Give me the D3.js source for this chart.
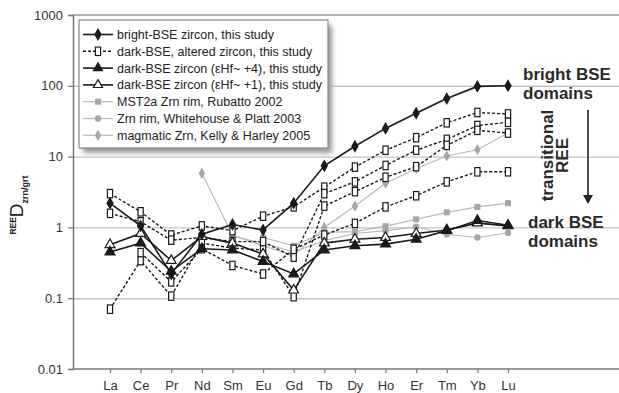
<!DOCTYPE html>
<html>
<head>
<meta charset="utf-8">
<script src="https://cdn.jsdelivr.net/npm/d3@7"></script>
<style>
  body { margin: 0; background: #fff; }
  svg { font-family: Arial, "Liberation Sans", sans-serif; }
</style>
</head>
<body>
<div id="chart"></div>
<script>
// REE categories and partition coefficients
var elements = ["La", "Ce", "Pr", "Nd", "Sm", "Eu", "Gd", "Tb", "Dy", "Ho", "Er", "Tm", "Yb", "Lu"];
var yTicks = [0.01, 0.1, 1, 10, 100, 1000];

var brightBSE = [2.2, 1.05, 0.22, 0.8, 1.1, 0.92, 2.2, 7.4, 14, 25, 41, 66, 98, 100];
var altered1 = [3.0, 1.66, 0.78, 1.05, 0.9, 1.44, 1.95, 3.7, 7.1, 12.3, 18.5, 30, 42, 40];
var altered2 = [1.58, 1.2, 0.66, 0.72, 0.63, 0.63, 0.38, 3.0, 4.4, 7.5, 12.3, 17.5, 27.5, 30.5];
var altered3 = [0.07, 0.34, 0.107, 0.6, 0.51, 0.48, 0.105, 2.0, 3.2, 5.1, 7.2, 14.4, 23.5, 21.5];
var altered4 = [null, 0.44, 0.17, 0.5, 0.29, 0.22, 0.49, 0.78, 1.14, 1.95, 2.8, 4.4, 6.1, 6.1];
var hfPlus4 = [0.45, 0.6, 0.24, 0.5, 0.48, 0.33, 0.22, 0.48, 0.55, 0.58, 0.68, 0.9, 1.25, 1.07];
var hfPlus1 = [0.57, 0.82, 0.34, 0.74, 0.6, 0.42, 0.13, 0.6, 0.68, 0.72, 0.82, 0.92, 1.15, 1.05];
var rubatto = [null, null, null, null, null, 0.72, 0.55, 0.85, 0.87, 1.04, 1.3, 1.63, 1.95, 2.2];
var whitehouse = [null, null, null, null, 0.75, 0.6, 0.45, 0.65, 0.82, 0.9, 1.02, 0.8, 0.72, 0.84];
var kelly = [null, null, null, 5.8, 0.78, 0.55, 0.4, 1.0, 2.0, 4.2, 6.8, 10.2, 12.5, 21.5];

var legendLabels = [
    "bright-BSE zircon, this study",
    "dark-BSE, altered zircon, this study",
    "dark-BSE zircon (\u03b5Hf~ +4), this study",
    "dark-BSE zircon (\u03b5Hf~ +1), this study",
    "MST2a Zrn rim, Rubatto 2002",
    "Zrn rim, Whitehouse & Platt 2003",
    "magmatic Zrn, Kelly & Harley 2005"
];

var W = 619, H = 393;
var plotLeft = 73, plotRight = 619, plotTop = 15, plotBottom = 369;

var svg = d3.select("#chart").append("svg")
    .attr("width", W)
    .attr("height", H);

var x = d3.scalePoint().domain(elements).range([110, 508]);
var y = d3.scaleLog().domain([0.01, 1000]).range([plotBottom, plotTop]);

// gridlines
svg.append("g")
    .attr("transform", "translate(" + plotLeft + ",0)")
    .call(d3.axisLeft(y).tickValues([0.1, 1, 10, 100]).tickSize(-(plotRight - plotLeft)).tickFormat(""))
    .call(g => g.select(".domain").remove())
    .selectAll("line").attr("stroke", "#c4c4c4").attr("stroke-width", 1.4);

// top frame line
svg.append("line")
    .attr("x1", plotLeft).attr("x2", plotRight)
    .attr("y1", y(1000)).attr("y2", y(1000))
    .attr("stroke", "#999").attr("stroke-width", 1.4);

// axes
var yAxis = svg.append("g")
    .attr("transform", "translate(" + plotLeft + ",0)")
    .call(d3.axisLeft(y).tickValues(yTicks).tickSize(5).tickPadding(5).tickFormat(d => String(d)));
var xAxis = svg.append("g")
    .attr("transform", "translate(0," + plotBottom + ")")
    .call(d3.axisBottom(x).tickSize(4).tickPadding(8));
xAxis.select(".domain").attr("d", "M" + plotLeft + ",0H" + plotRight);
[yAxis, xAxis].forEach(function (g) {
    g.select(".domain").attr("stroke", "#777").attr("stroke-width", 1.5);
    g.selectAll(".tick line").attr("stroke", "#777").attr("stroke-width", 1.2);
    g.selectAll("text").attr("font-size", 13).attr("fill", "#333");
});

// series definitions
var grey = "#a6a6a6";
var series = [
    { values: rubatto, color: "#b8b8b8", width: 1.2, dash: null, marker: "square", fill: grey, stroke: "none" },
    { values: whitehouse, color: "#b8b8b8", width: 1.2, dash: null, marker: "circle", fill: grey, stroke: "none" },
    { values: kelly, color: "#b8b8b8", width: 1.2, dash: null, marker: "diamond", fill: grey, stroke: "none" },
    { values: altered1, color: "#1a1a1a", width: 1.4, dash: "3,2", marker: "rect", fill: "#fff", stroke: "#1a1a1a" },
    { values: altered2, color: "#1a1a1a", width: 1.4, dash: "3,2", marker: "rect", fill: "#fff", stroke: "#1a1a1a" },
    { values: altered3, color: "#1a1a1a", width: 1.4, dash: "3,2", marker: "rect", fill: "#fff", stroke: "#1a1a1a" },
    { values: altered4, color: "#1a1a1a", width: 1.4, dash: "3,2", marker: "rect", fill: "#fff", stroke: "#1a1a1a" },
    { values: hfPlus1, color: "#1a1a1a", width: 1.6, dash: null, marker: "triangle", fill: "#fff", stroke: "#1a1a1a" },
    { values: hfPlus4, color: "#1a1a1a", width: 1.6, dash: null, marker: "triangle", fill: "#1a1a1a", stroke: "#1a1a1a" },
    { values: brightBSE, color: "#1a1a1a", width: 1.6, dash: null, marker: "diamond", fill: "#1a1a1a", stroke: "#1a1a1a" }
];

var line = d3.line()
    .defined(d => d.v != null)
    .x(d => x(d.el))
    .y(d => y(d.v));

function drawMarker(g, type, fill, stroke, big) {
    var s = big ? 1 : 0.85;
    if (type == "rect") {
        g.append("rect").attr("x", -2.6).attr("y", -4.2).attr("width", 5.2).attr("height", 8.4)
            .attr("fill", fill).attr("stroke", stroke).attr("stroke-width", 1.2);
    } else if (type == "square") {
        g.append("rect").attr("x", -3).attr("y", -3).attr("width", 6).attr("height", 6)
            .attr("fill", fill);
    } else if (type == "circle") {
        g.append("circle").attr("r", 3.2).attr("fill", fill);
    } else if (type == "diamond") {
        g.append("path").attr("d", d3.symbol(d3.symbolDiamond, fill == grey ? 36 : 48)())
            .attr("fill", fill);
    } else if (type == "triangle") {
        g.append("path").attr("d", d3.symbol(d3.symbolTriangle, 42 * s)())
            .attr("fill", fill).attr("stroke", stroke).attr("stroke-width", 1.2);
    }
}

series.forEach(function (s) {
    var pts = elements.map((el, i) => ({ el: el, v: s.values[i] }));
    svg.append("path")
        .datum(pts)
        .attr("d", line)
        .attr("fill", "none")
        .attr("stroke", s.color)
        .attr("stroke-width", s.width)
        .attr("stroke-dasharray", s.dash);
    pts.filter(d => d.v != null).forEach(function (d) {
        var g = svg.append("g").attr("transform", "translate(" + x(d.el) + "," + y(d.v) + ")");
        drawMarker(g, s.marker, s.fill, s.stroke, true);
    });
});

// legend
var defs = svg.append("defs");
defs.append("filter").attr("id", "shadow").attr("x", "-10%").attr("y", "-10%").attr("width", "130%").attr("height", "130%")
    .append("feGaussianBlur").attr("stdDeviation", 2.5);

var lx = 79, ly = 20, lw = 249, lh = 128;
svg.append("rect")
    .attr("x", lx + 4).attr("y", ly + 5).attr("width", lw).attr("height", lh)
    .attr("fill", "#999").attr("filter", "url(#shadow)");
svg.append("rect")
    .attr("x", lx).attr("y", ly).attr("width", lw).attr("height", lh)
    .attr("fill", "#fff").attr("stroke", "#888").attr("stroke-width", 1.2);

var legendSeries = [series[9], series[3], series[8], series[7], series[0], series[1], series[2]];
legendSeries.forEach(function (s, i) {
    var cy = 34.5 + i * 16.8;
    var g = svg.append("g").attr("transform", "translate(0," + cy + ")");
    g.append("line").attr("x1", 83).attr("x2", 113)
        .attr("stroke", s.color).attr("stroke-width", s.width).attr("stroke-dasharray", s.dash);
    drawMarker(g.append("g").attr("transform", "translate(98,0)"), s.marker, s.fill, s.stroke, false);
    g.append("text").attr("x", 117).attr("y", 4.5)
        .attr("font-size", 12.5).attr("fill", "#222")
        .text(legendLabels[i]);
});

// y-axis title
var yt = svg.append("text")
    .attr("transform", "translate(23,205) rotate(-90)")
    .attr("text-anchor", "middle")
    .attr("fill", "#222");
yt.append("tspan").attr("font-size", 8.5).attr("font-weight", "bold").attr("dy", -7).text("REE");
yt.append("tspan").attr("font-size", 19).attr("dy", 7).text("D");
yt.append("tspan").attr("font-size", 9).attr("font-weight", "bold").attr("dy", 5).text("zrn/grt");

// annotations
var ann = svg.append("g").attr("font-size", 17).attr("font-weight", "bold").attr("fill", "#2a2a2a");
ann.append("text").attr("x", 523).attr("y", 80).text("bright BSE");
ann.append("text").attr("x", 523).attr("y", 99).text("domains");
ann.append("text").attr("x", 528).attr("y", 228).text("dark BSE");
ann.append("text").attr("x", 528).attr("y", 247).text("domains");
ann.append("text").attr("transform", "translate(553,155.5) rotate(-90)").attr("text-anchor", "middle").text("transitional");
ann.append("text").attr("transform", "translate(568,155.5) rotate(-90)").attr("text-anchor", "middle").text("REE");

// arrow
svg.append("line")
    .attr("x1", 588).attr("x2", 588).attr("y1", 110).attr("y2", 196)
    .attr("stroke", "#222").attr("stroke-width", 1.6);
svg.append("path")
    .attr("d", "M583,195 L593,195 L588,204 Z")
    .attr("fill", "#222");
</script>
</body>
</html>
